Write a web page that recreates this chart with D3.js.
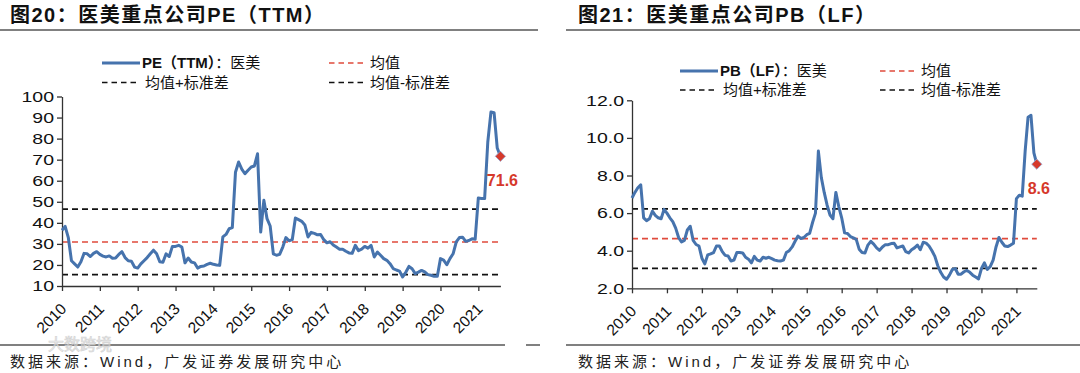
<!DOCTYPE html>
<html><head><meta charset="utf-8">
<script src="https://cdn.jsdelivr.net/npm/d3@7"></script>
<style>
body{margin:0;background:#fff;}
svg text{font-family:"Liberation Sans","Noto Sans CJK SC",sans-serif;}
</style></head><body>
<svg id="c" width="1080" height="373"></svg>
<script>
// ---------------- data ----------------
const yearLabels = ["2010","2011","2012","2013","2014","2015","2016","2017","2018","2019","2020","2021"];

// Monthly PE(TTM) of key medical-aesthetics companies, Jan 2010 – Aug 2021
const peValues = [
  36.5,38.3,33,22,20.5,19,21.5,25.5,25.3,24,25.5,26.3,
  25,24.2,23.8,24.3,23.2,23.3,25,26.3,23.5,22,21.8,19,
  18.5,20.5,22,23.5,25.3,27,25.3,21.5,21.3,25.3,24,28.8,
  28.8,29.3,28.5,21,23.3,21.4,21,18.5,19.3,19.5,20.3,20.8,
  20.3,20,19.8,33.3,34.5,37.2,37.7,64,68.9,65.5,63.3,65,
  66.5,67,72.8,35.6,50.7,42,38.5,25.3,24.6,25,28.5,33,
  31.5,32,42.3,41.5,40.7,39,33.3,35.5,35,34.3,34.5,32,
  30.5,31,29.5,28.5,27.5,27.5,26.5,25.7,25.5,29.3,26.8,27.5,
  28.8,28,29.3,23.8,26.1,24.6,23,22.2,20.6,18.3,17.6,17.1,
  14.3,16.5,19.3,18.2,15.9,16.6,17.4,16.7,15.4,15.1,14.6,14.6,
  23,22.3,20.1,23,25.3,30.9,33,33.2,31.2,31.6,32.4,32.2,
  51.8,51.6,51.5,78.4,92.6,92.3,75.5,71.6
];
// Monthly PB(LF), same months
const pbValues = [
  6.8,7.1,7.35,7.5,5.75,5.6,5.7,6.1,5.88,5.75,5.7,6.2,
  6.0,5.75,5.55,5.2,4.7,4.47,4.55,5.1,5.3,4.55,4.33,4.25,
  3.6,3.3,3.78,3.83,3.9,4.25,4.25,3.95,3.75,3.72,3.45,3.5,
  3.9,3.9,3.88,3.65,3.55,3.35,3.7,3.5,3.45,3.65,3.6,3.65,
  3.58,3.5,3.47,3.45,3.5,3.9,4.0,4.2,4.5,4.78,4.65,4.7,
  4.85,4.92,5.5,6.0,9.3,7.9,7.1,6.42,5.9,5.7,7.1,6.35,
  5.75,4.95,4.92,4.75,4.68,4.6,4.08,3.9,3.88,4.3,4.5,4.35,
  4.15,4.02,4.2,4.32,4.32,4.38,4.4,4.15,4.2,4.25,3.95,3.88,
  4.05,4.15,4.3,4.05,4.45,4.4,4.25,4.0,3.7,3.2,2.85,2.6,
  2.48,2.7,3.0,3.05,2.75,2.75,2.88,2.95,2.85,2.7,2.6,2.5,
  3.05,3.35,3.0,3.15,3.5,4.2,4.7,4.45,4.25,4.22,4.3,4.4,
  6.77,6.95,6.9,9.3,11.1,11.2,9.2,8.6
];
// [mean, mean+std, mean-std]
const peRefLines = [30.9, 46.5, 15.4];
const pbRefLines = [4.64, 6.22, 3.06];
const peTicks = [10,20,30,40,50,60,70,80,90,100];
const pbTicks = [2,4,6,8,10,12];

// ---------------- drawing ----------------
const svg = d3.select("#c");
const BLUE = "#4673ad", RED = "#e04b3c", MARK = "#d6392b";

function panel(o){
  const n = o.values.length;
  const x = d3.scaleLinear().domain([0, n-1]).range([o.x0, o.x1]);
  const y = d3.scaleLinear().domain(o.domain).range([o.yBot, o.yTop]);
  const g = svg.append("g");

  // reference lines
  const refColors = [RED, "#111", "#111"];
  o.ref.forEach((v,i)=>{
    g.append("line").attr("x1",o.x0).attr("x2",o.x1).attr("y1",y(v)).attr("y2",y(v))
      .attr("stroke",refColors[i]).attr("stroke-width",1.7).attr("stroke-dasharray","6,4");
  });

  // axes
  const yAx = g.append("g").attr("transform",`translate(${o.x0},0)`)
    .call(d3.axisLeft(y).tickValues(o.ticks).tickFormat(o.fmt).tickSize(5).tickSizeOuter(0));
  const xAx = g.append("g").attr("transform",`translate(0,${o.yBot})`)
    .call(d3.axisBottom(x).tickValues(d3.range(0, n, 12)).tickFormat((d,i)=>yearLabels[i]).tickSize(5).tickSizeOuter(0));
  [yAx,xAx].forEach(a=>{
    a.selectAll("path,line").attr("stroke","#333").attr("stroke-width",1.3);
    a.selectAll("text").attr("fill","#111").style("font-size","15px");
  });
  yAx.selectAll("text").attr("x",-8).each(function(){
    const w = this.getComputedTextLength();
    d3.select(this).attr("textLength", w*1.3).attr("lengthAdjust","spacingAndGlyphs");
  });
  xAx.selectAll("text").attr("x",0).attr("y",0).attr("dy","0.35em")
    .style("font-size","15.5px")
    .attr("text-anchor","end").attr("transform","translate(1,20) rotate(-45)");

  // series line
  g.append("path").datum(o.values)
    .attr("fill","none").attr("stroke",BLUE).attr("stroke-width",3)
    .attr("stroke-linejoin","round")
    .attr("d", d3.line().x((d,i)=>x(i)).y(d=>y(d)));

  // last point marker + label
  const li = n-1, lv = o.values[li];
  g.append("path").attr("d", d3.symbol(d3.symbolSquare, 52)())
    .attr("transform",`translate(${x(li)},${y(lv)}) rotate(45)`)
    .attr("fill",MARK).attr("stroke","#9aa0c8").attr("stroke-width",0.8);
  g.append("text").attr("x",x(li)+2).attr("y",y(lv)+o.labelDy)
    .attr("text-anchor","middle").attr("fill",MARK)
    .style("font-size","16px").style("font-weight","bold").text(lv.toFixed(1));

  // legend
  const L = o.leg;
  const lg = g.append("g").style("font-size","15px").attr("fill","#111");
  lg.append("line").attr("x1",L.c1).attr("x2",L.c1+38).attr("y1",L.r1).attr("y2",L.r1)
    .attr("stroke",BLUE).attr("stroke-width",3);
  const t1 = lg.append("text").attr("x",L.c1+40).attr("y",L.r1).attr("dy","0.35em");
  t1.append("tspan").style("font-weight","bold").text(o.name);
  t1.append("tspan").text("：医美");
  const dash = (x1,yy,c)=>lg.append("line").attr("x1",x1).attr("x2",x1+34).attr("y1",yy).attr("y2",yy)
      .attr("stroke",c).attr("stroke-width",1.6).attr("stroke-dasharray","5.5,4");
  dash(L.c1, L.r2, "#111");
  lg.append("text").attr("x",L.c1+43).attr("y",L.r2).attr("dy","0.35em").text("均值+标准差");
  dash(L.c2, L.r1, RED);
  lg.append("text").attr("x",L.c2+41).attr("y",L.r1).attr("dy","0.35em").text("均值");
  dash(L.c2, L.r2, "#111");
  lg.append("text").attr("x",L.c2+41).attr("y",L.r2).attr("dy","0.35em").text("均值-标准差");

  // title, rules, source
  svg.append("text").attr("x",o.titleX).attr("y",22).attr("fill","#111")
    .style("font-size","20px").style("letter-spacing","1.5px").style("font-weight","bold").text(o.title);
  svg.append("text").attr("x",o.titleX).attr("y",367).attr("fill","#222")
    .style("font-size","15px").style("letter-spacing","3px").text("数据来源：Wind，广发证券发展研究中心");
}

// separator rules
const rules = [[0,538,30],[566,1080,30],[0,505,345],[526,540,345],[566,1080,345]];
rules.forEach(r=>svg.append("line").attr("x1",r[0]).attr("x2",r[1]).attr("y1",r[2]).attr("y2",r[2])
  .attr("stroke","#808080").attr("stroke-width",2));

panel({values:peValues, ref:peRefLines, ticks:peTicks, domain:[10,100], fmt:d3.format("d"),
  x0:62, x1:500.4, yTop:96.5, yBot:286, labelDy:30,
  name:"PE（TTM）", title:"图20：医美重点公司PE（TTM）", titleX:10,
  leg:{c1:102, c2:329, r1:63, r2:82.5}});
panel({values:pbValues, ref:pbRefLines, ticks:pbTicks, domain:[2,12], fmt:d3.format(".1f"),
  x0:632, x1:1036.8, yTop:100.3, yBot:288.3, labelDy:30,
  name:"PB（LF）", title:"图21：医美重点公司PB（LF）", titleX:578,
  leg:{c1:680, c2:880, r1:71, r2:90}});

// faint watermark
svg.append("text").attr("x",48).attr("y",350).attr("fill","#e6e6e6").attr("stroke","#c8c8c8")
  .attr("stroke-width",0.6).attr("opacity",0.8).style("font-size","16px").text("大数跨境");
</script>
</body></html>
